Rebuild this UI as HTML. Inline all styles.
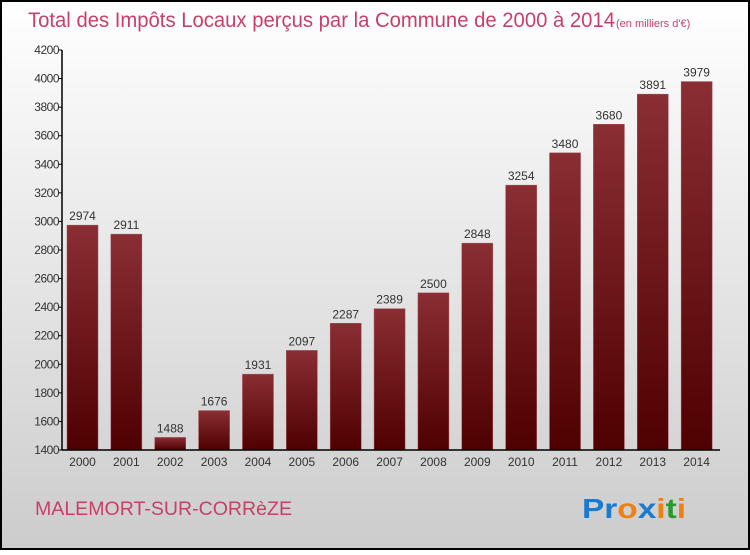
<!DOCTYPE html>
<html><head><meta charset="utf-8"><style>
body{margin:0;width:750px;height:550px;overflow:hidden;font-family:"Liberation Sans",sans-serif}
</style></head><body>
<svg width="750" height="550" xmlns="http://www.w3.org/2000/svg">
<defs>
<linearGradient id="bg" x1="0" y1="0" x2="0" y2="1"><stop offset="0" stop-color="#ffffff"/><stop offset="1" stop-color="#cccccc"/></linearGradient>
<linearGradient id="bar" x1="0" y1="0" x2="0" y2="1"><stop offset="0" stop-color="#8a2e33"/><stop offset="1" stop-color="#4f0000"/></linearGradient>
</defs>
<rect x="1" y="1" width="748" height="548" fill="url(#bg)" stroke="#000" stroke-width="2"/>
<text x="28" y="27" font-size="21" fill="#c8406a" textLength="587" lengthAdjust="spacingAndGlyphs">Total des Impôts Locaux perçus par la Commune de 2000 à 2014</text>
<text x="616" y="27" font-size="11" fill="#c8406a">(en milliers d'€)</text>
<g id="plot"></g>
<text x="35" y="515" font-size="19" fill="#c8406a" textLength="257" lengthAdjust="spacingAndGlyphs">MALEMORT-SUR-CORRèZE</text>
<text x="582" y="518" font-size="28" font-weight="bold" textLength="104" lengthAdjust="spacingAndGlyphs"><tspan fill="#1a7ad0">Pr</tspan><tspan fill="#f08010">o</tspan><tspan fill="#1a7ad0">x</tspan><tspan fill="#f08010">i</tspan><tspan fill="#2a9a2a">t</tspan><tspan fill="#f08010">i</tspan></text>
</svg>
<script>
const years=["2000","2001","2002","2003","2004","2005","2006","2007","2008","2009","2010","2011","2012","2013","2014"];
const values=[2974,2911,1488,1676,1931,2097,2287,2389,2500,2848,3254,3480,3680,3891,3979];
const yTicks=[1400,1600,1800,2000,2200,2400,2600,2800,3000,3200,3400,3600,3800,4000,4200];
const NS="http://www.w3.org/2000/svg";
const g=document.getElementById('plot');
const x0=62,x1=720,yb=450,yt=50,vmin=1400,vmax=4200;
const y=v=>yb-(v-vmin)/(vmax-vmin)*(yb-yt);
const step=(x1-x0)/years.length;
const bx=i=>x0+step*i+5;
function mk(t,a,txt){const e=document.createElementNS(NS,t);for(const k in a)e.setAttribute(k,a[k]);if(txt!=null)e.textContent=txt;g.appendChild(e);return e;}
values.forEach((v,i)=>{
 const r=mk('rect',{x:bx(i),y:y(v),width:31,height:yb-y(v),fill:'url(#bar)',stroke:'#a05058','stroke-width':0.5});
 
 
 const t=mk('text',{x:bx(i)+15.5,y:y(v)-5,'font-size':12,'text-anchor':'middle',fill:'#333'},String(v));
 
 
 const xl=mk('text',{x:bx(i)+15.5,y:466,'font-size':12,'text-anchor':'middle',fill:'#333'},years[i]);
 
 
});
yTicks.forEach(v=>{
 mk('line',{x1:x0-4,x2:x0,y1:y(v),y2:y(v),stroke:'#000'});
 const t=mk('text',{x:x0-3,y:y(v)+4,'font-size':12,'text-anchor':'end',fill:'#333','letter-spacing':'-0.5'},String(v));
 
 
});
const ya=mk('line',{x1:x0,x2:x0,y1:yt,y2:yb,stroke:'#000','stroke-width':1.5});


const xa=mk('line',{x1:x0,x2:x1,y1:yb,y2:yb,stroke:'#000','stroke-width':1.5});


</script>
</body></html>
